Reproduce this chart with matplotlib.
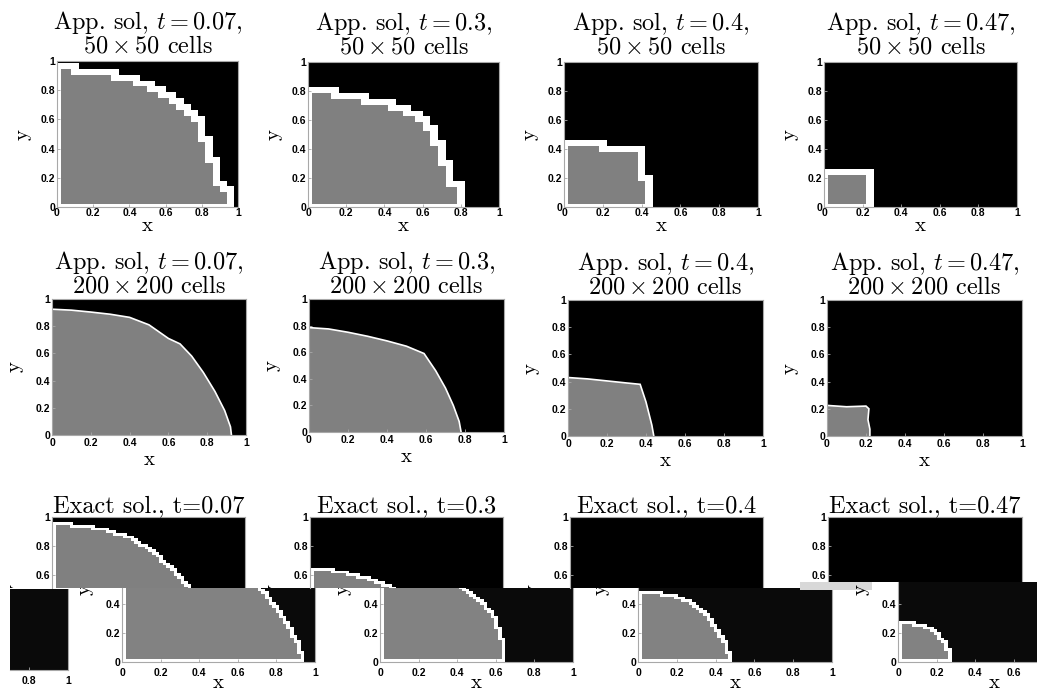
import numpy as np
import matplotlib
matplotlib.use("Agg")
import matplotlib.pyplot as plt
from matplotlib.colors import ListedColormap
from matplotlib.path import Path
from matplotlib.patches import Rectangle
from matplotlib.transforms import Bbox, TransformedBbox

plt.rcParams['mathtext.fontset'] = 'cm'
plt.rcParams['font.family'] = ['Liberation Sans', 'DejaVu Sans']
plt.rcParams['font.weight'] = 'bold'

# ------------------------------------------------------------------ data
times = ["0.07", "0.3", "0.4", "0.47"]
tick_vals = [0, 0.2, 0.4, 0.6, 0.8, 1]
tick_labels = ['0', '0.2', '0.4', '0.6', '0.8', '1']

# Row 1: 50x50 approximations, staircase fronts (column edges / gray heights)
a50_t007_edges = [0, .09, .30, .42, .51, .57, .62, .66, .71, .75, .79, .83, .87, .91, .95]
a50_t007_tops = [.94, .90, .86, .82, .78, .74, .70, .66, .62, .58, .44, .30, .14, .10]
a50_t03_edges = [0, .13, .29, .42, .50, .57, .61, .65, .69, .73, .78]
a50_t03_tops = [.78, .74, .70, .66, .62, .58, .52, .42, .28, .14]
a50_t04_edges = [0, .18, .38, .42]
a50_t04_tops = [.42, .38, .17]
a50_t047_edges = [0, .22]
a50_t047_tops = [.22]

# Row 2: 200x200 approximations, front points (x, y)
a200_t007_x = [0, .1, .2, .3, .4, .5, .6, .66, .72, .78, .84, .89, .92, .925]
a200_t007_y = [.925, .918, .904, .888, .865, .81, .71, .67, .58, .46, .32, .18, .06, 0]
a200_t03_x = [0, .1, .2, .3, .4, .5, .59, .65, .7, .74, .77, .78]
a200_t03_y = [.785, .775, .75, .72, .685, .645, .59, .46, .33, .2, .08, 0]
a200_t04_x = [0, .1, .2, .3, .37, .4, .43, .44]
a200_t04_y = [.43, .42, .405, .39, .38, .25, .08, 0]
a200_t047_x = [0, .1, .2, .215, .21, .22, .22]
a200_t047_y = [.225, .215, .22, .2, .12, .05, 0]

# Row 3: exact solution, front points (x, y)
ex_t007_x = [0, .1, .2, .3, .4, .5, .6, .67, .74, .8, .85, .9, .93, .93]
ex_t007_y = [.94, .935, .92, .89, .845, .77, .65, .55, .45, .34, .24, .12, .02, 0]
ex_t03_x = [0, .1, .2, .3, .4, .48, .53, .58, .61, .63, .635]
ex_t03_y = [.635, .625, .6, .56, .51, .44, .38, .3, .2, .1, 0]
ex_t04_x = [0, .1, .2, .28, .34, .39, .43, .455, .46]
ex_t04_y = [.46, .455, .43, .38, .31, .23, .14, .06, 0]
ex_t047_x = [0, .08, .14, .19, .23, .255, .26]
ex_t047_y = [.26, .25, .23, .19, .13, .06, 0]

row1 = [(a50_t007_edges, a50_t007_tops), (a50_t03_edges, a50_t03_tops),
        (a50_t04_edges, a50_t04_tops), (a50_t047_edges, a50_t047_tops)]
row2 = [(a200_t007_x, a200_t007_y), (a200_t03_x, a200_t03_y),
        (a200_t04_x, a200_t04_y), (a200_t047_x, a200_t047_y)]
row3 = [(ex_t007_x, ex_t007_y), (ex_t03_x, ex_t03_y),
        (ex_t04_x, ex_t04_y), (ex_t047_x, ex_t047_y)]

# ------------------------------------------------------------------ helpers
W, H = 1037, 690
fig = plt.figure(figsize=(W / 100, H / 100), dpi=100)
fig.patch.set_facecolor('white')

cmap = ListedColormap(['#000000', '#808080', '#ffffff'])
GRAY = '#808080'
FRAME = '#a8a8a8'
SERIF = 'cmr10'
TFS = 17.5


def add_ax(x0, x1, y0, y1):
    return fig.add_axes([x0 / W, 1 - y1 / H, (x1 - x0) / W, (y1 - y0) / H])


def step_polygon(edges, tops):
    verts = [(0, 0), (0, tops[0])]
    for i, t in enumerate(tops):
        verts.append((edges[i], t))
        verts.append((edges[i + 1], t))
    verts.append((edges[-1], 0))
    return verts


def curve_polygon(xs, ys):
    return [(0, 0)] + list(zip(xs, ys)) + [(xs[-1], 0)]


def field(verts, n, band, edge):
    path = Path(verts)
    c = (np.arange(n) + 0.5) / n
    X, Y = np.meshgrid(c, c)
    inside = path.contains_points(np.column_stack([X.ravel(), Y.ravel()])).reshape(n, n)
    white = np.zeros_like(inside)
    pad = np.pad(inside, band)
    for dy in range(-band, band + 1):
        for dx in range(-band, band + 1):
            white |= pad[band + dy:band + dy + n, band + dx:band + dx + n]
    F = np.where(white, 2, 0)
    F[inside] = 1
    if edge:
        F[0, :][F[0, :] == 1] = 2
        F[:, 0][F[:, 0] == 1] = 2
    return F


def style(ax, xpad, xticks=True, yvals=tick_vals, ylabs=tick_labels,
          xvals=tick_vals, xlabs=tick_labels):
    ax.set_facecolor('black')
    for s in ax.spines.values():
        s.set_color(FRAME)
        s.set_linewidth(0.8)
    ax.set_xlim(0, 1)
    ax.set_xticks(xvals)
    ax.set_xticklabels(xlabs)
    ax.set_yticks(yvals)
    ax.set_yticklabels(ylabs)
    ax.tick_params(direction='in', length=2.5, width=0.6, color=FRAME,
                   labelsize=7.5, pad=1.5)
    ax.tick_params(axis='x', pad=xpad)
    if not xticks:
        ax.tick_params(axis='x', bottom=False, labelbottom=False)


def ylabel_text(x, y, clip=None):
    t = fig.text(x / W, 1 - y / H, 'y', rotation=90, ha='center', va='center',
                 fontsize=15, family=SERIF, fontweight='normal')
    if clip is not None:
        y_lo, y_hi = clip
        t.set_clip_on(True)
        t.set_clip_box(TransformedBbox(
            Bbox.from_extents(0, 1 - y_hi / H, 1, 1 - y_lo / H), fig.transFigure))
    return t


def xlabel_text(x, y):
    fig.text(x / W, 1 - y / H, 'x', ha='center', va='center',
             fontsize=15, family=SERIF, fontweight='normal')


# ------------------------------------------------------------------ row 1
row1_box = [(57, 238, 61, 207), (308, 499, 62, 207), (564, 758, 62, 207), (824, 1017, 62, 207)]
for (x0, x1, y0, y1), (edges, tops), t in zip(row1_box, row1, times):
    ax = add_ax(x0, x1, y0, y1)
    F = field(step_polygon(edges, tops), 50, 2, True)
    ax.imshow(F, origin='lower', extent=[0, 1, 0, 1], cmap=cmap, vmin=0, vmax=2,
              interpolation='nearest', aspect='auto')
    style(ax, xpad=0.5)
    ax.set_ylim(0, 1)
    ax.set_title('App. sol, $t = ' + t + '$,\n$50 \\times 50$ cells', fontsize=TFS,
                 family=SERIF, fontweight='normal', pad=6, linespacing=0.95)
    ylabel_text(x0 - 34, (y0 + y1) / 2)
    xlabel_text((x0 + x1) / 2, y1 + 19)

# ------------------------------------------------------------------ row 2
row2_box = [(52, 246, 299, 435), (309, 504, 299, 432), (568, 763, 300, 436), (827, 1022, 300, 436)]
for (x0, x1, y0, y1), (xs, ys), t in zip(row2_box, row2, times):
    ax = add_ax(x0, x1, y0, y1)
    poly = curve_polygon(xs, ys)
    ax.fill([p[0] for p in poly], [p[1] for p in poly], color=GRAY, lw=0)
    ax.plot(xs, ys, color='white', lw=1.2, solid_joinstyle='miter')
    style(ax, xpad=2.5)
    ax.set_ylim(0, 1)
    ax.set_title('App. sol, $t = ' + t + '$,\n$200 \\times 200$ cells', fontsize=TFS,
                 family=SERIF, fontweight='normal', pad=5, linespacing=0.95)
    ylabel_text(x0 - 37, (y0 + y1) / 2)
    xlabel_text((x0 + x1) / 2, y1 + 25)

# ------------------------------------------------------------------ row 3 (split / shifted)
up_x = [(52, 245), (310, 503), (570, 763), (828, 1022)]
lo_x = [(122, 315), (380, 573), (638, 832), (898, 1091)]
splits = [588, 588, 588, 582]
top3, bot3 = 517, 662
for (ux0, ux1), (lx0, lx1), sp, (xs, ys), t in zip(up_x, lo_x, splits, row3, times):
    F = field(curve_polygon(xs, ys), 54, 1, True)
    ysplit = (bot3 - sp) / (bot3 - top3)
    # upper half
    au = add_ax(ux0, ux1, top3, sp)
    au.imshow(F, origin='lower', extent=[0, 1, 0, 1], cmap=cmap, vmin=0, vmax=2,
              interpolation='nearest', aspect='auto')
    style(au, xpad=4.5, xticks=False, yvals=[0.6, 0.8, 1], ylabs=['0.6', '0.8', '1'])
    au.set_ylim(ysplit, 1)
    au.spines['bottom'].set_visible(False)
    au.set_title('Exact sol., t=' + t, fontsize=TFS, family=SERIF,
                 fontweight='normal', pad=3)
    ylabel_text(ux0 - 37, (top3 + bot3) / 2, clip=(0, sp))
    # lower half (shifted)
    al = add_ax(lx0, lx1, sp, bot3)
    al.imshow(F, origin='lower', extent=[0, 1, 0, 1],
              cmap=ListedColormap(['#0a0a0a', '#828282', '#ffffff']),
              vmin=0, vmax=2, interpolation='nearest', aspect='auto')
    vis = [i for i, v in enumerate(tick_vals) if lx0 + v * (lx1 - lx0) < W - 12]
    style(al, xpad=4.5, yvals=[0, 0.2, 0.4], ylabs=['0', '0.2', '0.4'],
          xvals=[tick_vals[i] for i in vis], xlabs=[tick_labels[i] for i in vis])
    al.set_facecolor('#0a0a0a')
    al.set_ylim(0, ysplit)
    al.spines['top'].set_visible(False)
    ylabel_text(lx0 - 37, (top3 + bot3) / 2, clip=(sp, H))
    xlabel_text((lx0 + lx1) / 2, bot3 + 21)

# wrapped fragment at the far left of row 3
af = add_ax(10, 68, 589, 670)
af.set_facecolor('#0a0a0a')
for s in af.spines.values():
    s.set_color(FRAME)
    s.set_linewidth(0.8)
af.spines['left'].set_visible(False)
af.spines['top'].set_visible(False)
af.set_xlim(0.70, 1)
af.set_ylim(0, 1)
af.set_xticks([0.8, 1])
af.set_xticklabels(['0.8', '1'])
af.set_yticks([])
af.tick_params(direction='in', length=2.5, width=0.6, color=FRAME, labelsize=7.5, pad=4)

# light glitch strip
fig.patches.append(Rectangle((800 / W, 1 - 590 / H), 72 / W, 8 / H,
                             transform=fig.transFigure, color='#d8d8d8', lw=0))

fig.savefig('out.png', dpi=100)
